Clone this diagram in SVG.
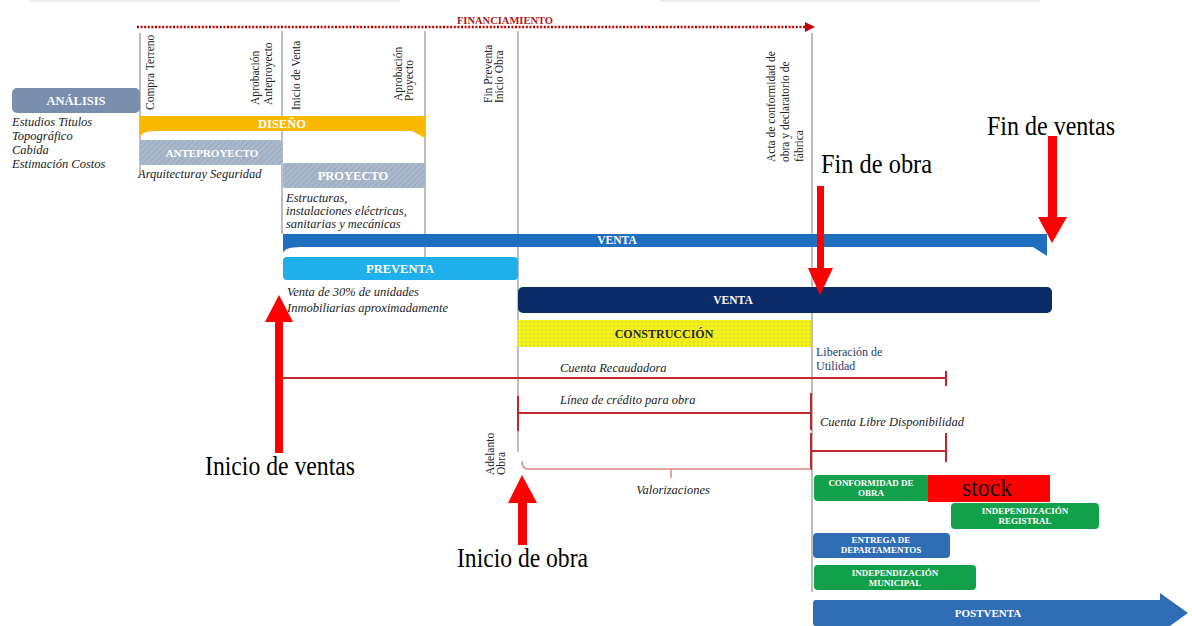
<svg xmlns="http://www.w3.org/2000/svg" width="1192" height="626" viewBox="0 0 1192 626">
<style>
.vl{stroke:#a8a8a8;stroke-width:1.5}
.vt{font-family:"Liberation Serif",serif;font-size:11.5px;fill:#222}
.it{font-family:"Liberation Serif",serif;font-style:italic;font-size:12.5px;fill:#222}
.bt{font-family:"Liberation Serif",serif;font-weight:bold;fill:#fff;text-anchor:middle}
.sb{font-family:"Liberation Serif",serif;font-weight:bold;font-size:9px;fill:#fff;text-anchor:middle}
.big{font-family:"Liberation Serif",serif;font-size:28px;fill:#000}
.rl{stroke:#c1272d;stroke-width:2;fill:none}
.arr{fill:#ff0000}
.grn{fill:#13a04a}
.blu{fill:#2e6db4}
</style>
<defs>
<pattern id="hatch" width="4" height="4" patternUnits="userSpaceOnUse" patternTransform="rotate(45)"><rect width="4" height="4" fill="#a9b8cb"/><line x1="0" y1="0" x2="0" y2="4" stroke="#8e9fb6" stroke-width="1.2"/></pattern>
<pattern id="dots" width="4" height="4" patternUnits="userSpaceOnUse"><rect width="4" height="4" fill="#f4f213"/><circle cx="2" cy="2" r="0.75" fill="#c8c27c"/></pattern>
</defs>
<rect width="1192" height="626" fill="#fff"/>
<line x1="30" y1="1" x2="400" y2="1" stroke="#e4e4e4" stroke-width="1.5"/>
<line x1="660" y1="1" x2="1040" y2="1" stroke="#e4e4e4" stroke-width="1.5"/>

<g id="connectors">
<line class="vl" x1="140" y1="33" x2="140" y2="178"/>
<line class="vl" x1="282" y1="31" x2="282" y2="234"/>
<line class="vl" x1="425" y1="31" x2="425" y2="257"/>
<line class="vl" x1="518" y1="31" x2="518" y2="452"/>
<line class="vl" x1="812" y1="33" x2="812" y2="592"/>
<line x1="137" y1="27" x2="806" y2="27" stroke="#c00000" stroke-width="2.5" stroke-dasharray="2 1.6"/>
<polygon points="805,22 815,27 805,32" fill="#c00000"/>
<path class="rl" d="M283,378 H946 M946,371 V386"/>
<path class="rl" d="M518,413 H811 M518,396 V431 M811,393 V430"/>
<path class="rl" d="M812,451 H946 M946,433 V462 M811,433 V470"/>
<path d="M522,461 Q522,469 528,469 H811 M671,469 V478" stroke="#d88a8a" stroke-width="1.5" fill="none"/>
</g>

<g id="financiamiento"><text x="505" y="24" text-anchor="middle" font-family="Liberation Serif,serif" font-weight="bold" font-size="10.5" fill="#b0161b">FINANCIAMIENTO</text></g>

<g id="milestones">
<text class="vt" font-size="12.5" transform="translate(154,110) rotate(-90)">Compra Terreno</text>
<text class="vt" transform="translate(259,105) rotate(-90)">Aprobación</text>
<text class="vt" transform="translate(272,105) rotate(-90)">Anteproyecto</text>
<text class="vt" font-size="12.5" transform="translate(300,110) rotate(-90)">Inicio de Venta</text>
<text class="vt" font-size="10" transform="translate(402,101) rotate(-90)">Aprobación</text>
<text class="vt" font-size="10" transform="translate(413,101) rotate(-90)">Proyecto</text>
<text class="vt" transform="translate(492,103) rotate(-90)">Fin Preventa</text>
<text class="vt" transform="translate(503,103) rotate(-90)">Inicio Obra</text>
<text class="vt" font-size="12" transform="translate(775,162) rotate(-90)">Acta de conformidad de</text>
<text class="vt" font-size="12" transform="translate(789,162) rotate(-90)">obra y declaratorio de</text>
<text class="vt" font-size="12" transform="translate(803,162) rotate(-90)">fábrica</text>
<text class="vt" fill="#444" transform="translate(494,475) rotate(-90)">Adelanto</text>
<text class="vt" fill="#444" transform="translate(505,475) rotate(-90)">Obra</text>
</g>

<g id="analisis">
<rect x="12" y="88" width="128" height="25" rx="5" fill="#7a8fae"/>
<text class="bt" x="76" y="105" font-size="12.5">ANÁLISIS</text>
<text class="it" x="12" y="126">Estudios Titulos</text>
<text class="it" x="12" y="140">Topográfico</text>
<text class="it" x="12" y="154">Cabida</text>
<text class="it" x="12" y="168">Estimación Costos</text>
</g>

<g id="diseno">
<path d="M140,116 H425 V138 L412,131 H154 Q142,131 140,137 Z" fill="#f8b800"/>
<text class="bt" x="282" y="128" font-size="12.5">DISEÑO</text>
</g>

<g id="anteproyecto">
<rect x="140" y="140" width="142" height="25" rx="2" fill="url(#hatch)"/>
<text class="bt" x="212" y="157" font-size="11">ANTEPROYECTO</text>
<text class="it" x="138" y="178" font-size="13">Arquitecturay Seguridad</text>
</g>

<g id="proyecto">
<rect x="283" y="163" width="142" height="25" rx="2" fill="url(#hatch)"/>
<text class="bt" x="353" y="180" font-size="12.5">PROYECTO</text>
<text class="it" x="286" y="202" font-size="12">Estructuras,</text>
<text class="it" x="286" y="215" font-size="12">instalaciones eléctricas,</text>
<text class="it" x="286" y="228" font-size="12">sanitarias y mecánicas</text>
</g>

<g id="venta-total">
<path d="M283,234 H1047 V256 L1033,247 H300 Q285,247 283,253 Z" fill="#1f6fbe"/>
<text class="bt" x="617" y="244" font-size="11.5">VENTA</text>
</g>

<g id="preventa">
<rect x="283" y="257" width="235" height="23" rx="4" fill="#1fb0ec"/>
<text class="bt" x="400" y="273" font-size="12.5">PREVENTA</text>
<text class="it" x="287" y="296" font-size="12">Venta de 30% de unidades</text>
<text class="it" x="287" y="312" font-size="12">Inmobiliarias aproximadamente</text>
</g>

<g id="venta">
<rect x="518" y="287" width="534" height="26" rx="5" fill="#0b2a68"/>
<text class="bt" x="733" y="304" font-size="11.5">VENTA</text>
</g>

<g id="construccion">
<rect x="517" y="320" width="294" height="27" fill="url(#dots)"/>
<text x="664" y="338" text-anchor="middle" font-family="Liberation Serif,serif" font-weight="bold" font-size="12" fill="#2a2a2a">CONSTRUCCIÓN</text>
</g>

<g id="cuentas">
<text x="816" y="356" font-family="Liberation Serif,serif" font-size="12" fill="#2c3a66">Liberación de</text>
<text x="816" y="370" font-family="Liberation Serif,serif" font-size="12" fill="#2c3a66">Utilidad</text>
<text class="it" x="560" y="372" font-size="12">Cuenta Recaudadora</text>
<text class="it" x="560" y="404" font-size="12">Línea de crédito para obra</text>
<text class="it" x="820" y="426" font-size="12">Cuenta Libre Disponibilidad</text>
<text class="it" x="673" y="494" font-size="11.5" text-anchor="middle" fill="#333">Valorizaciones</text>
</g>

<g id="conformidad">
<rect x="814" y="475" width="116" height="26" rx="4" class="grn"/>
<text class="sb" x="871" y="486">CONFORMIDAD DE</text>
<text class="sb" x="871" y="496">OBRA</text>
</g>
<g id="stock">
<rect x="928" y="475" width="122" height="27" fill="#ff0000"/>
<text x="987" y="496" text-anchor="middle" font-family="Liberation Serif,serif" font-size="25" fill="#111" textLength="50" lengthAdjust="spacingAndGlyphs">stock</text>
</g>
<g id="indep-registral">
<rect x="951" y="503" width="148" height="26" rx="4" class="grn"/>
<text class="sb" x="1025" y="514">INDEPENDIZACIÓN</text>
<text class="sb" x="1025" y="524">REGISTRAL</text>
</g>
<g id="entrega">
<rect x="813" y="533" width="137" height="25" rx="4" class="blu"/>
<text class="sb" x="881" y="543">ENTREGA DE</text>
<text class="sb" x="881" y="553">DEPARTAMENTOS</text>
</g>
<g id="indep-municipal">
<rect x="814" y="565" width="162" height="25" rx="4" class="grn"/>
<text class="sb" x="895" y="576">INDEPENDIZACIÓN</text>
<text class="sb" x="895" y="586">MUNICIPAL</text>
</g>
<g id="postventa">
<path d="M816,600 H1160 V593 L1188,613 L1160,633 V626 H816 Q813,626 813,623 V603 Q813,600 816,600 Z" class="blu"/>
<text class="bt" x="988" y="617" font-size="11">POSTVENTA</text>
</g>

<g id="inicio-ventas">
<polygon class="arr" points="275,453 275,322 265,322 279,295 293,322 283,322 283,453"/>
<text class="big" x="205" y="475" textLength="150" lengthAdjust="spacingAndGlyphs">Inicio de ventas</text>
</g>
<g id="inicio-obra">
<polygon class="arr" points="518,545 518,503 508,503 522,475 537,503 527,503 527,545"/>
<text class="big" x="457" y="567" textLength="131" lengthAdjust="spacingAndGlyphs">Inicio de obra</text>
</g>
<g id="fin-obra">
<polygon class="arr" points="817,186 824,186 824,268 833,268 820,295 808,268 817,268"/>
<text class="big" x="821" y="173" textLength="111" lengthAdjust="spacingAndGlyphs">Fin de obra</text>
</g>
<g id="fin-ventas">
<polygon class="arr" points="1048,136 1057,136 1057,217 1067,217 1052,243 1038,217 1048,217"/>
<text class="big" x="987" y="135" textLength="128" lengthAdjust="spacingAndGlyphs">Fin de ventas</text>
</g>
</svg>
